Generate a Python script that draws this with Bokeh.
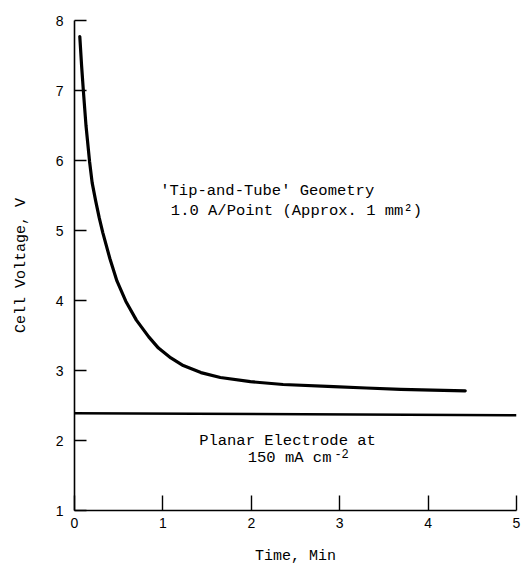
from bokeh.plotting import figure
from bokeh.models import ColumnDataSource, FixedTicker
from bokeh.core.properties import value
from bokeh.embed import file_html
from bokeh.resources import INLINE

# 'Tip-and-Tube' geometry, 1.0 A/point: cell voltage vs time
tip_time = [0.06, 0.08, 0.10, 0.13, 0.17, 0.20, 0.24, 0.28, 0.32, 0.40, 0.48,
            0.58, 0.70, 0.84, 0.95, 1.09, 1.23, 1.43, 1.65, 1.99, 2.36, 2.93,
            3.30, 3.69, 4.05, 4.42]
tip_voltage = [7.77, 7.36, 7.00, 6.50, 5.99, 5.68, 5.42, 5.18, 4.97, 4.60, 4.28,
               3.99, 3.72, 3.48, 3.32, 3.18, 3.07, 2.97, 2.90, 2.84, 2.80, 2.77,
               2.75, 2.73, 2.72, 2.71]

# Planar electrode at 150 mA cm-2
planar_time = [0.0, 5.0]
planar_voltage = [2.39, 2.36]

x_ticks = [0, 1, 2, 3, 4, 5]
y_ticks = [1, 2, 3, 4, 5, 6, 7, 8]

mono = "Liberation Mono"
sans = "Liberation Sans"

p = figure(width=524, height=567, x_range=(0, 5.0), y_range=(1, 8),
           output_backend="svg", toolbar_location=None,
           min_border_left=74, min_border_right=8,
           min_border_top=20, min_border_bottom=53)
p.outline_line_color = None
p.xgrid.visible = False
p.ygrid.visible = False
p.background_fill_color = "white"
p.border_fill_color = "white"

tip = ColumnDataSource(dict(t=tip_time, v=tip_voltage))
planar = ColumnDataSource(dict(t=planar_time, v=planar_voltage))
p.line("t", "v", source=tip, line_color="black", line_width=3.2,
       line_join="round", line_cap="round")
p.line("t", "v", source=planar, line_color="black", line_width=2.6)

for ax in (p.xaxis[0], p.yaxis[0]):
    ax.axis_line_color = "black"
    ax.axis_line_width = 1.6
    ax.major_tick_line_color = "black"
    ax.major_tick_line_width = 1.4
    ax.major_tick_out = 0
    ax.minor_tick_line_color = None
    ax.major_label_text_font = sans
    ax.major_label_text_font_size = "14px"
    ax.major_label_text_color = "black"
    ax.axis_label_text_font = mono
    ax.axis_label_text_font_size = "15px"
    ax.axis_label_text_font_style = "normal"
    ax.axis_label_text_color = "black"

p.xaxis.ticker = FixedTicker(ticks=x_ticks)
p.yaxis.ticker = FixedTicker(ticks=y_ticks)
p.xaxis.major_tick_in = 15
p.yaxis.major_tick_in = 12
p.xaxis.major_label_standoff = 7
p.yaxis.major_label_standoff = 11
p.xaxis.axis_label = "Time, Min"
p.yaxis.axis_label = "Cell Voltage, V"
p.xaxis.axis_label_standoff = 17
p.yaxis.axis_label_standoff = 23

# curve annotations
note_style = dict(text_font=value(mono), text_font_size="15.5px",
                  text_color="black", text_align="left", text_baseline="middle")
p.text(x=[0.97], y=[5.56], text=["'Tip-and-Tube' Geometry"], **note_style)
p.text(x=[1.09], y=[5.28], text=["1.0 A/Point (Approx. 1 mm²)"], **note_style)
p.text(x=[1.41], y=[1.99], text=["Planar Electrode at"], **note_style)
p.text(x=[1.96], y=[1.75], text=["150 mA cm"], **note_style)
p.text(x=[2.94], y=[1.82], text=["-2"], text_font=value(mono),
       text_font_size="12px", text_color="black",
       text_align="left", text_baseline="middle")

open("out.html", "w").write(file_html(p, INLINE))
